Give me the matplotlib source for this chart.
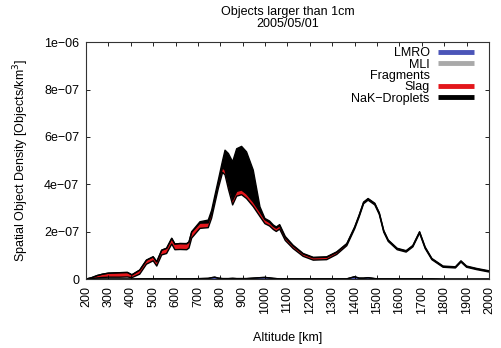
import matplotlib
matplotlib.use("Agg")
import matplotlib.pyplot as plt
from matplotlib.lines import Line2D
import numpy as np

plt.rcParams['font.family'] = ['Liberation Sans', 'DejaVu Sans']

# Altitude grid [km] and densities per debris source (units of 1e-7 objects/km^3)
altitude = [200, 225, 250, 275, 300, 350, 385, 405, 440, 470, 500, 516, 538, 560,
            583, 597, 620, 650, 660, 672, 709, 746, 761, 775, 791, 810, 821, 836,
            855, 873, 895, 917, 947, 977, 999, 1020, 1037, 1050, 1065, 1090, 1125, 1170,
            1215, 1275, 1320, 1365, 1400, 1420, 1440, 1460, 1490, 1510, 1530, 1550,
            1590, 1630, 1660, 1690, 1715, 1745, 1795, 1850, 1875, 1900, 1945, 2000]
lmro = [0, 0, 0, 0, 0, 0, 0, 0, 0.01, 0.01, 0.01, 0.01, 0.01, 0.01,
        0.01, 0.01, 0.01, 0.01, 0.01, 0.01, 0.02, 0.03, 0.06, 0.08, 0.04, 0.02, 0.02, 0.02,
        0.03, 0.02, 0.02, 0.02, 0.04, 0.06, 0.07, 0.05, 0.03, 0.02, 0.01, 0.01, 0.01, 0.01,
        0.01, 0.01, 0.01, 0.01, 0.10, 0.04, 0.04, 0.06, 0.02, 0.01, 0.01, 0.01,
        0.01, 0.01, 0.01, 0.01, 0.01, 0.01, 0, 0, 0, 0, 0, 0]
mli = [0.0] * len(altitude)
fragments = [0, 0.02, 0.05, 0.07, 0.08, 0.08, 0.09, 0.06, 0.20, 0.62, 0.76, 0.54, 1.01, 1.07,
             1.47, 1.23, 1.24, 1.23, 1.30, 1.72, 2.12, 2.14, 2.51, 3.08, 3.79, 4.48, 4.38, 3.78,
             3.10, 3.48, 3.54, 3.38, 3.02, 2.58, 2.27, 2.19, 2.06, 1.99, 2.10, 1.62, 1.28, 0.95,
             0.79, 0.81, 1.03, 1.40, 2.02, 2.58, 3.14, 3.27, 3.11, 2.72, 1.97, 1.58,
             1.23, 1.13, 1.35, 1.93, 1.28, 0.81, 0.50, 0.47, 0.72, 0.50, 0.40, 0.30]
slag = [0, 0.04, 0.10, 0.14, 0.17, 0.19, 0.19, 0.12, 0.17, 0.17, 0.17, 0.18, 0.20, 0.22,
        0.24, 0.24, 0.25, 0.25, 0.25, 0.25, 0.22, 0.20, 0.20, 0.20, 0.20, 0.20, 0.20, 0.20,
        0.20, 0.20, 0.20, 0.20, 0.20, 0.20, 0.17, 0.15, 0.14, 0.14, 0.14, 0.12, 0.11, 0.10,
        0.10, 0.10, 0.09, 0.07, 0.06, 0.06, 0.05, 0.05, 0.05, 0.05, 0.05, 0.04,
        0.04, 0.04, 0.04, 0.04, 0.04, 0.03, 0.03, 0.03, 0.03, 0.03, 0.03, 0.03]
nak = [0, 0, 0, 0, 0, 0, 0, 0, 0, 0, 0, 0, 0, 0,
       0, 0, 0, 0.01, 0.01, 0.02, 0.06, 0.12, 0.13, 0.14, 0.15, 0.30, 0.84, 1.30,
       1.62, 1.80, 1.84, 1.77, 1.34, 0.21, 0.05, 0.06, 0.05, 0.05, 0.05, 0.05, 0.03, 0.02,
       0.02, 0.02, 0.02, 0.02, 0.02, 0.02, 0.02, 0.02, 0.02, 0.02, 0.02, 0.02,
       0.02, 0.02, 0.02, 0.02, 0.02, 0.02, 0.02, 0.02, 0.02, 0.02, 0.02, 0.02]

labels = ['LMRO', 'MLI', 'Fragments', 'Slag', 'NaK\u2212Droplets']
colors = ['#4b55b8', '#a9a9a9', 'white', '#e3161b', 'black']
xticks = list(range(200, 2001, 100))
yticks = [0, 2e-7, 4e-7, 6e-7, 8e-7, 1e-6]
ytick_labels = ['0', '2e\u221207', '4e\u221207', '6e\u221207', '8e\u221207', '1e\u221206']

fig = plt.figure(figsize=(5.01, 3.48), dpi=100)
ax = fig.add_axes([0.1717, 0.198, 0.8043, 0.681])

x = np.array(altitude)
bottom = np.zeros(len(x))
for vals, c in zip([lmro, mli, fragments, slag, nak], colors):
    top = bottom + np.array(vals) * 1e-7
    ax.fill_between(x, bottom, top, facecolor=c, edgecolor='none', lw=0)
    ax.plot(x, top, color='black', lw=1.0)
    bottom = top

ax.set_xlim(200, 2000)
ax.set_ylim(0, 1e-6)
ax.set_xticks(xticks)
ax.set_xticklabels([str(t) for t in xticks], rotation=90, fontsize=9)
ax.set_yticks(yticks)
ax.set_yticklabels(ytick_labels, fontsize=9)
ax.tick_params(direction='in', top=True, right=True, length=3, width=0.6, pad=5)
for s in ax.spines.values():
    s.set_linewidth(0.8)
    s.set_color('#333333')

ax.set_xlabel('Altitude [km]', fontsize=9, labelpad=13)
ax.set_ylabel('Spatial Object Density [Objects/km$^3$]', fontsize=9, labelpad=9)
ax.set_title('Objects larger than 1cm\n2005/05/01', fontsize=9, linespacing=0.95, pad=11)

handles = [Line2D([], [], color=c, lw=3.5, solid_capstyle='butt') for c in colors]
ax.legend(handles, labels, loc='upper right', bbox_to_anchor=(0.963, 0.978),
          markerfirst=False, frameon=False, fontsize=9, handlelength=2.9,
          handletextpad=0.65, labelspacing=-0.05, borderaxespad=0, borderpad=0)

fig.savefig('out.png', dpi=100)
